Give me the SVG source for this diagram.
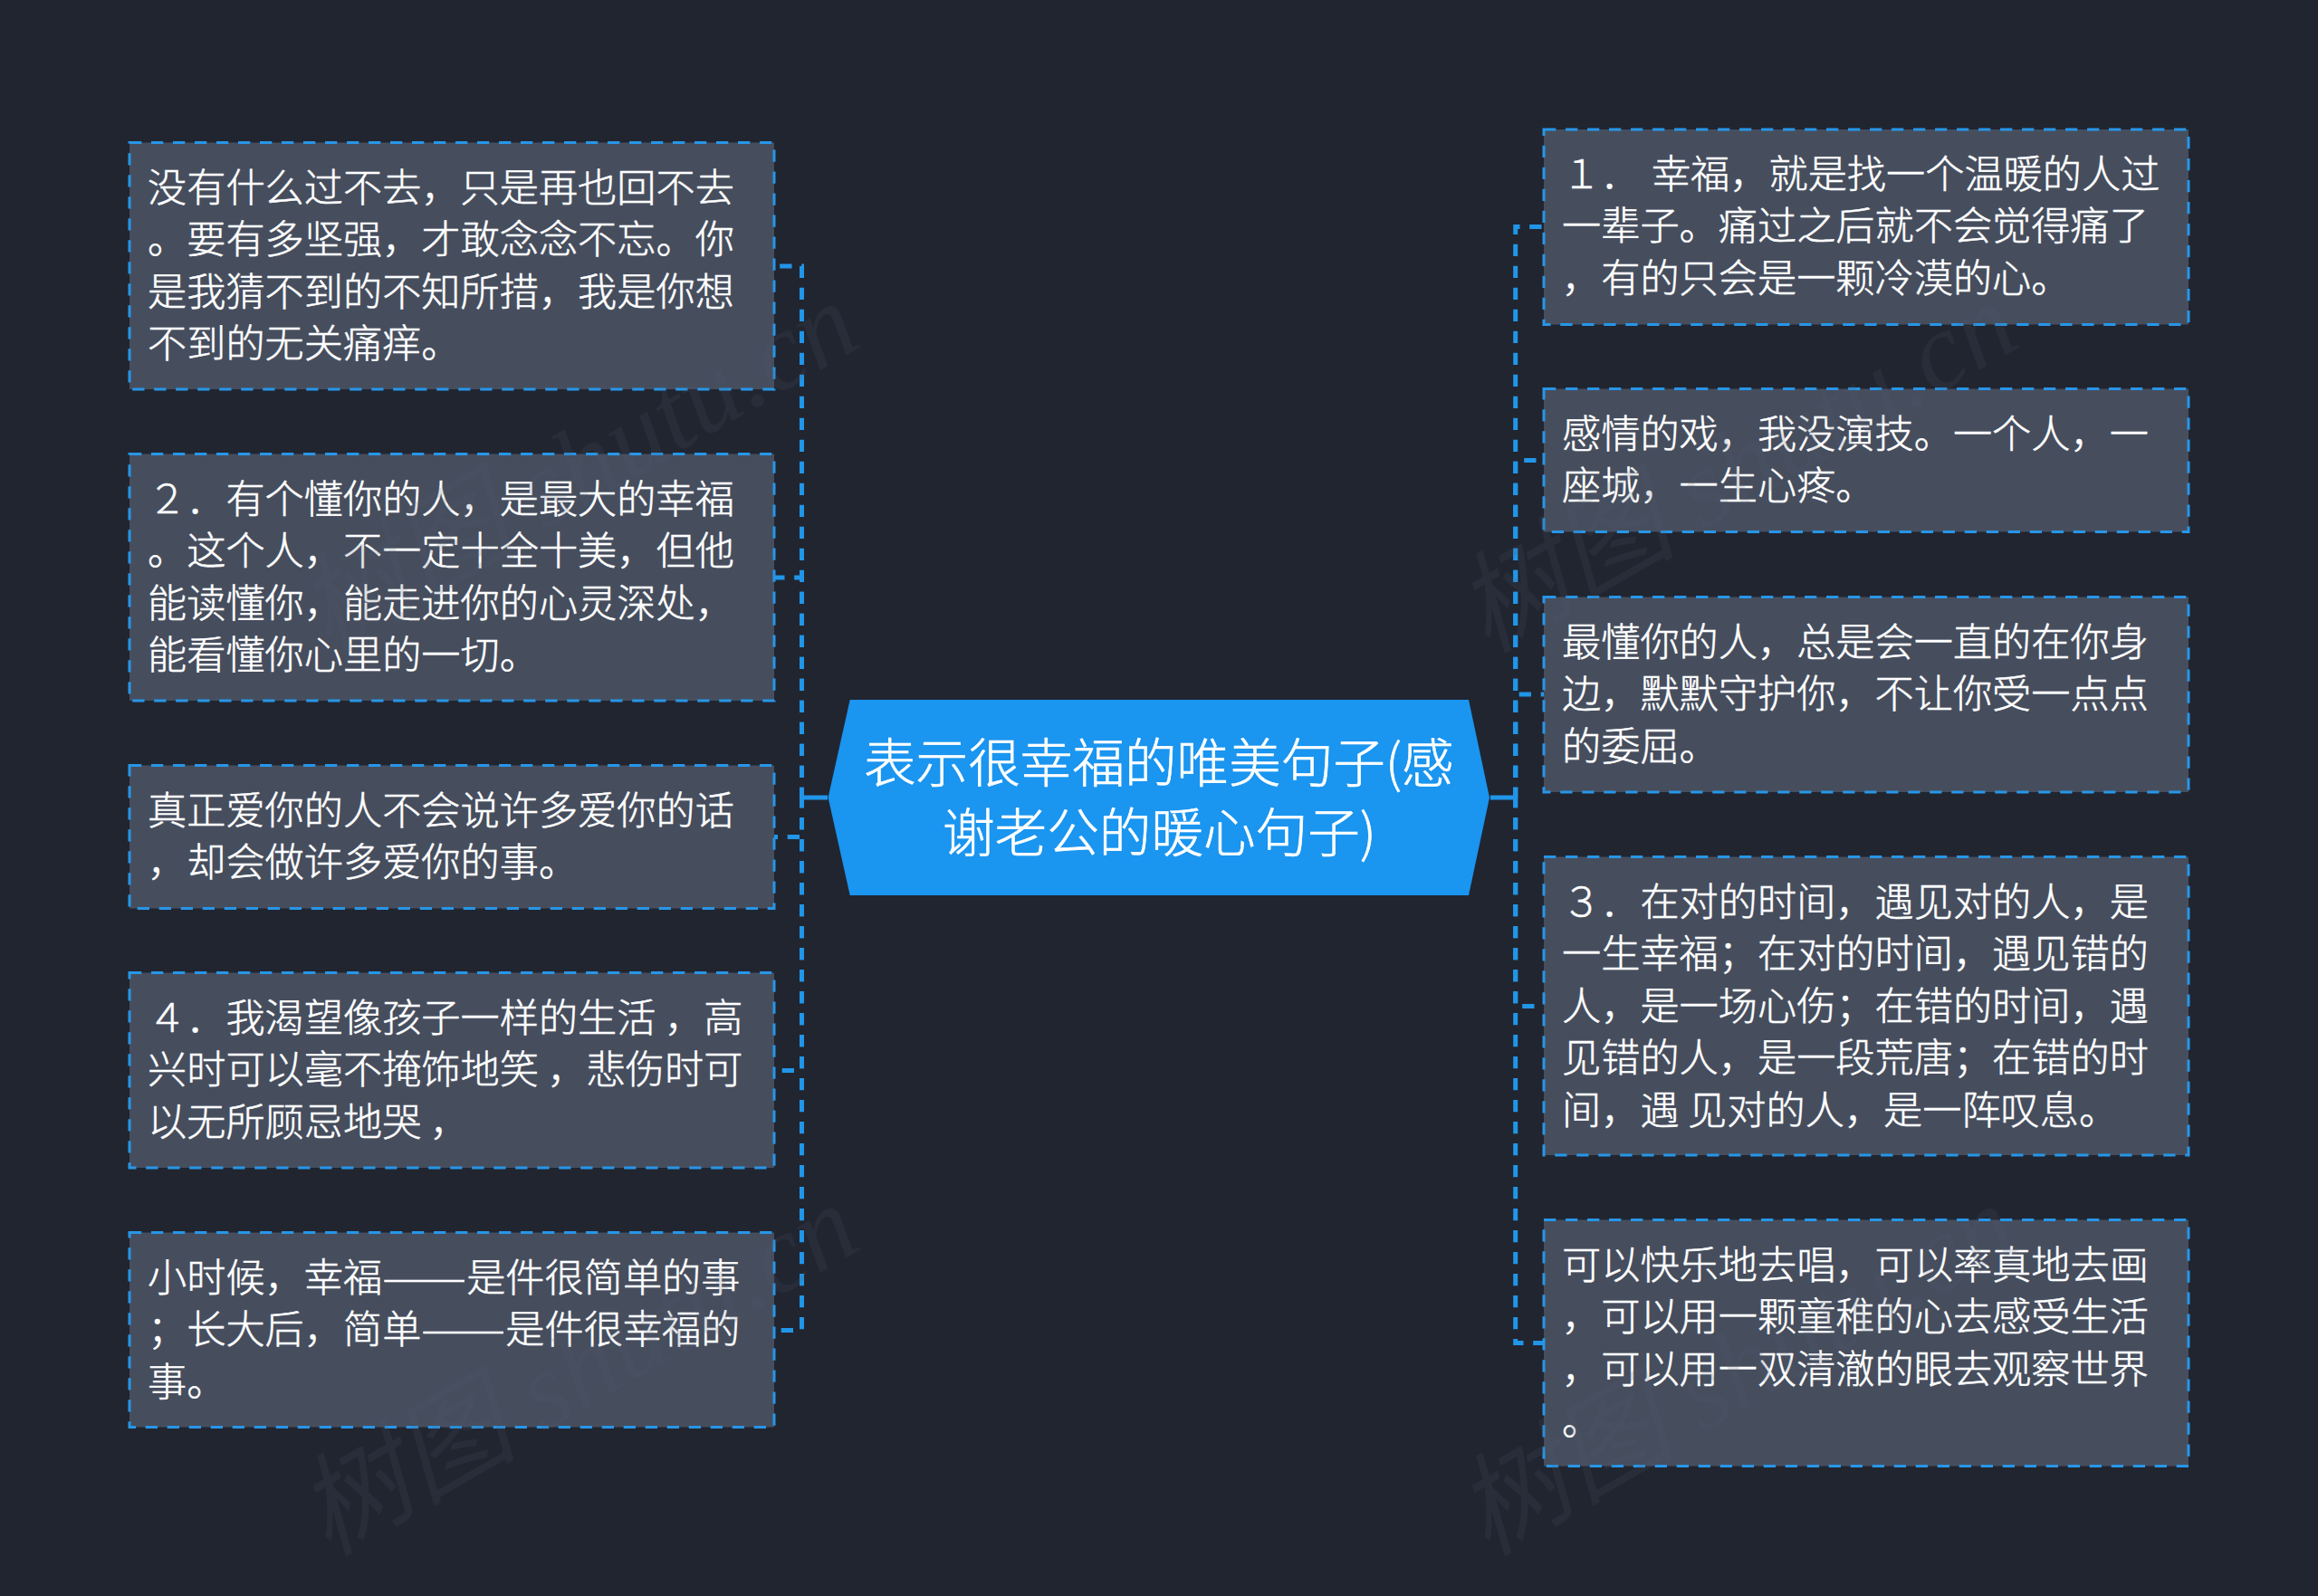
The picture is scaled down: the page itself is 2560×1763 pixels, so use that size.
<svg xmlns="http://www.w3.org/2000/svg" width="2560" height="1763" viewBox="0 0 2560 1763">
<style>
.box{fill:#464e5e;stroke:#2796e8;stroke-width:3;stroke-dasharray:13.3 10.7}
.t{font-family:"Noto Sans CJK SC","Liberation Sans",sans-serif;font-size:43.2px;fill:#fff;stroke:#fff;stroke-width:.5;font-weight:300}
.c{font-family:"Noto Sans CJK SC","Liberation Sans",sans-serif;font-size:57.6px;fill:#fff;stroke:#fff;stroke-width:.6;font-weight:300}
.cn{fill:none;stroke:#2196e8;stroke-width:5;stroke-dasharray:13.3 10.7;stroke-dashoffset:26}
.solid{fill:none;stroke:#2196e8;stroke-width:5}
.wm{font-family:"Liberation Serif","Noto Sans CJK SC",serif;font-style:italic;font-size:122px;fill:#505868;fill-opacity:.17}
</style>
<rect width="2560" height="1763" fill="#212530"/>
<g id="connectors">
<path class="cn" d="M885.5 881V294H855"/>
<path class="cn" d="M885.5 881V638H855"/>
<path class="cn" d="M885.5 881V924.5H855"/>
<path class="cn" d="M885.5 881V1182.5H855"/>
<path class="cn" d="M885.5 881V1469.5H855"/>
<path class="solid" d="M914 881H885.5"/>
<path class="cn" d="M1673.7 881V250.5H1705"/>
<path class="cn" d="M1673.7 881V508.5H1705"/>
<path class="cn" d="M1673.7 881V767H1705"/>
<path class="cn" d="M1673.7 881V1111.5H1705"/>
<path class="cn" d="M1673.7 881V1483.5H1705"/>
<path class="solid" d="M1646 881H1673.7"/>
</g>
<g id="center"><path d="M938.7 773H1622L1645 881L1622 989H938.7L914.6 881Z" fill="#1a95f0"/>
<text class="c" x="954" y="863.5">表示很幸福的唯美句子(感</text>
<text class="c" x="1041" y="940.5">谢老公的暖心句子)</text></g>
<g id="n1"><rect class="box" x="143" y="157.5" width="712" height="272.5"/>
<text class="t" x="163" y="223">没有什么过不去，只是再也回不去</text>
<text class="t" x="163" y="280">。要有多坚强，才敢念念不忘。你</text>
<text class="t" x="163" y="338">是我猜不到的不知所措，我是你想</text>
<text class="t" x="163" y="395">不到的无关痛痒。</text></g>
<g id="n2"><rect class="box" x="143" y="501.5" width="712" height="272.5"/>
<text class="t" x="163" y="567">２．有个懂你的人，是最大的幸福</text>
<text class="t" x="163" y="624">。这个人，不一定十全十美，但他</text>
<text class="t" x="163" y="682">能读懂你，能走进你的心灵深处，</text>
<text class="t" x="163" y="739">能看懂你心里的一切。</text></g>
<g id="n3"><rect class="box" x="143" y="845.5" width="712" height="158"/>
<text class="t" x="163" y="910.5">真正爱你的人不会说许多爱你的话</text>
<text class="t" x="163" y="967.5">，却会做许多爱你的事。</text></g>
<g id="n4"><rect class="box" x="143" y="1074.5" width="712" height="215.5"/>
<text class="t" x="163" y="1140">４．我渴望像孩子一样的生活 ，高</text>
<text class="t" x="163" y="1197">兴时可以毫不掩饰地笑 ，悲伤时可</text>
<text class="t" x="163" y="1255">以无所顾忌地哭 ，</text></g>
<g id="n5"><rect class="box" x="143" y="1361.5" width="712" height="215"/>
<text class="t" x="163" y="1427">小时候，幸福<tspan textLength="93" lengthAdjust="spacingAndGlyphs">——</tspan>是件很简单的事</text>
<text class="t" x="163" y="1484">；长大后，简单<tspan textLength="93" lengthAdjust="spacingAndGlyphs">——</tspan>是件很幸福的</text>
<text class="t" x="163" y="1542">事。</text></g>
<g id="n6"><rect class="box" x="1705" y="143" width="712" height="215.5"/>
<text class="t" x="1725" y="208">１． <tspan dx="3">幸福，就是找一个温暖的人过</tspan></text>
<text class="t" x="1725" y="265">一辈子。痛过之后就不会觉得痛了</text>
<text class="t" x="1725" y="323">，有的只会是一颗冷漠的心。</text></g>
<g id="n7"><rect class="box" x="1705" y="429.5" width="712" height="158"/>
<text class="t" x="1725" y="495">感情的戏，我没演技。一个人，一</text>
<text class="t" x="1725" y="552">座城，一生心疼。</text></g>
<g id="n8"><rect class="box" x="1705" y="659.5" width="712" height="215.5"/>
<text class="t" x="1725" y="724.5">最懂你的人，总是会一直的在你身</text>
<text class="t" x="1725" y="781.5">边，默默守护你，不让你受一点点</text>
<text class="t" x="1725" y="839.5">的委屈。</text></g>
<g id="n9"><rect class="box" x="1705" y="946.5" width="712" height="329.5"/>
<text class="t" x="1725" y="1011.5">３．在对的时间，遇见对的人，是</text>
<text class="t" x="1725" y="1068.5">一生幸福；在对的时间，遇见错的</text>
<text class="t" x="1725" y="1126.5">人，是一场心伤；在错的时间，遇</text>
<text class="t" x="1725" y="1183.5">见错的人，是一段荒唐；在错的时</text>
<text class="t" x="1725" y="1241.5">间，遇 见对的人，是一阵叹息。</text></g>
<g id="n10"><rect class="box" x="1705" y="1347.5" width="712" height="272"/>
<text class="t" x="1725" y="1413">可以快乐地去唱，可以率真地去画</text>
<text class="t" x="1725" y="1470">，可以用一颗童稚的心去感受生活</text>
<text class="t" x="1725" y="1528">，可以用一双清澈的眼去观察世界</text>
<text class="t" x="1725" y="1585">。</text></g>
<g id="watermark">
<text class="wm" transform="translate(362 723) rotate(-30)">树图 shutu.cn</text>
<text class="wm" transform="translate(1642 723) rotate(-30)">树图 shutu.cn</text>
<text class="wm" transform="translate(362 1720) rotate(-30)">树图 shutu.cn</text>
<text class="wm" transform="translate(1642 1720) rotate(-30)">树图 shutu.cn</text>
</g>
</svg>
